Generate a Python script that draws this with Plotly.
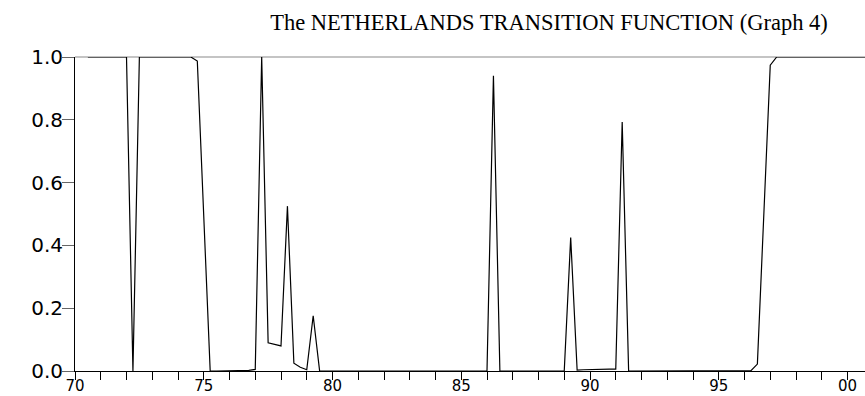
import pandas as pd
import plotly.graph_objects as go

# Quarterly observations, 1970Q3 .. 2000Q4
start_quarter = "1970Q3"
end_quarter = "2000Q4"
transition_values = [
    1.0, 1.0,                                  # 1970 Q3-Q4
    1.0, 1.0, 1.0, 1.0,                        # 1971
    1.0, 0.0, 1.0, 1.0,                        # 1972
    1.0, 1.0, 1.0, 1.0,                        # 1973
    1.0, 1.0, 1.0, 0.987,                      # 1974
    0.5, 0.0, 0.0, 0.0,                        # 1975
    0.0, 0.001, 0.001, 0.002,                  # 1976
    0.005, 1.0, 0.09, 0.085,                   # 1977
    0.08, 0.525, 0.025, 0.012,                 # 1978
    0.004, 0.176, 0.0, 0.0,                    # 1979
    0.0, 0.0, 0.0, 0.0,                        # 1980
    0.0, 0.0, 0.0, 0.0,                        # 1981
    0.0, 0.0, 0.0, 0.0,                        # 1982
    0.0, 0.0, 0.0, 0.0,                        # 1983
    0.0, 0.0, 0.0, 0.0,                        # 1984
    0.0, 0.0, 0.0, 0.0,                        # 1985
    0.0, 0.94, 0.0, 0.0,                       # 1986
    0.0, 0.0, 0.001, 0.001,                    # 1987
    0.0, 0.0, 0.0, 0.0,                        # 1988
    0.0, 0.425, 0.003, 0.004,                  # 1989
    0.005, 0.005, 0.006, 0.006,                # 1990
    0.006, 0.793, 0.0, 0.0,                    # 1991
    0.0, 0.0, 0.0, 0.0,                        # 1992
    0.0, 0.0, 0.0, 0.0,                        # 1993
    0.0, 0.0, 0.0, 0.0,                        # 1994
    0.0, 0.0, 0.0, 0.0,                        # 1995
    0.0, 0.001, 0.022, 0.5,                    # 1996
    0.974, 1.0, 1.0, 1.0,                      # 1997
    1.0, 1.0, 1.0, 1.0,                        # 1998
    1.0, 1.0, 1.0, 1.0,                        # 1999
    1.0, 1.0, 1.0, 1.0,                        # 2000
]

x_tick_years = [1970, 1975, 1980, 1985, 1990, 1995, 2000]
x_tick_labels = ["70", "75", "80", "85", "90", "95", "00"]
y_tick_values = [0.0, 0.2, 0.4, 0.6, 0.8, 1.0]
y_tick_labels = ["0.0", "0.2", "0.4", "0.6", "0.8", "1.0"]

title_text = "The NETHERLANDS TRANSITION FUNCTION (Graph 4)"

periods = pd.period_range(start_quarter, end_quarter, freq="Q")
x_vals = [p.year + (p.quarter - 1) / 4 for p in periods]

# yearly ticks, labelled every five years
all_years = list(range(x_tick_years[0], x_tick_years[-1] + 1))
label_map = dict(zip(x_tick_years, x_tick_labels))
all_year_text = [label_map.get(y, "") for y in all_years]

fig = go.Figure()
fig.add_trace(go.Scatter(
    x=x_vals, y=transition_values, mode="lines",
    line=dict(color="black", width=1.2),
    showlegend=False, hoverinfo="x+y",
))

fig.add_shape(type="line", xref="paper", yref="paper", x0=0, x1=1, y0=1, y1=1,
              line=dict(color="#8a8a8a", width=1.2), layer="below")

fig.update_layout(
    width=865, height=396,
    margin=dict(l=75, r=0, t=57, b=25, autoexpand=False),
    paper_bgcolor="white", plot_bgcolor="white",
    title=dict(text=title_text, x=549 / 865, xref="container", xanchor="center",
               y=1 - 22 / 396, yref="container", yanchor="middle",
               font=dict(family="Liberation Serif", size=22.5, color="black")),
    xaxis=dict(
        range=[1970, 1970 + 790 / 25.75],
        automargin=False,
        tickmode="array", tickvals=all_years, ticktext=all_year_text,
        ticks="outside", ticklen=8, tickwidth=1, tickcolor="black",
        showline=True, linecolor="black", linewidth=1,
        showgrid=False, zeroline=False,
        ticklabelstandoff=-7,
        tickfont=dict(family="DejaVu Sans", size=15, color="black"),
    ),
    yaxis=dict(
        range=[0, 1],
        automargin=False,
        tickmode="array", tickvals=y_tick_values, ticktext=y_tick_labels,
        ticks="outside", ticklen=12, tickwidth=1, tickcolor="#666666",
        showline=True, linecolor="black", linewidth=1,
        showgrid=False, zeroline=False,
        ticklabelstandoff=-5,
        tickfont=dict(family="DejaVu Sans", size=20, color="black"),
    ),
)

fig.write_html("out.html", config={"displayModeBar": False},
               post_script="document.body.style.margin='0px';")
